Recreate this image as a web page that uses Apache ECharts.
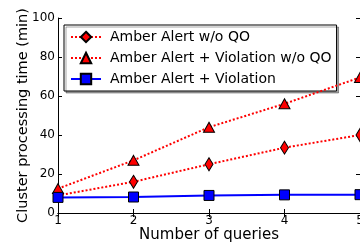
<!DOCTYPE html>
<html>
<head>
<meta charset="utf-8">
<script src="https://cdn.jsdelivr.net/npm/echarts@6/dist/echarts.min.js"></script>
<style>
html,body{margin:0;padding:0;background:#fff;}
#chart{width:360px;height:246px;}
</style>
</head>
<body>
<div id="chart"></div>
<script>
var queries = [1, 2, 3, 4, 5];
var alertNoQO = [9, 16, 25, 33.5, 40];
var alertViolNoQO = [12.5, 27, 44, 56, 69.5];
var alertViol = [8, 8.2, 9, 9.3, 9.4];
var yTicks = [0, 20, 40, 60, 80, 100];

function pairs(vals){
	var out = [];
	for(var i = 0; i < queries.length; i++){
		out.push([queries[i], vals[i]]);
	}
	return out;
}

var font = 'DejaVu Sans';
var chart = echarts.init(document.getElementById('chart'));
chart.setOption({
	animation : false,
	textStyle : { fontFamily : font },
	grid : {
		left : 58, top : 18, right : 0, bottom : 33,
		outerBoundsMode : 'none'
	},
	legend : {
		orient : 'vertical',
		left : 64, top : 25,
		padding : [5, 5, 5, 6],
		itemWidth : 30, itemHeight : 13, itemGap : 7,
		backgroundColor : '#fff',
		borderColor : '#000', borderWidth : 1,
		shadowColor : 'rgba(0,0,0,0.35)', shadowOffsetX : 2, shadowOffsetY : 2,
		textStyle : { fontFamily : font, fontSize : 14, color : '#000', padding : [0, 0, 0, 4] },
		data : ['Amber Alert w/o QO', 'Amber Alert + Violation w/o QO', 'Amber Alert + Violation']
	},
	xAxis : [
		{
			type : 'value',
			min : 1, max : 5, interval : 1,
			name : 'Number of queries',
			nameLocation : 'middle',
			nameGap : 15,
			nameMoveOverlap : false,
			nameTextStyle : { fontFamily : font, fontSize : 15, color : '#000', verticalAlign : 'top' },
			axisLine : { show : true, lineStyle : { color : '#000', width : 1 } },
			axisTick : { show : true, inside : true, length : 4, lineStyle : { color : '#000' } },
			axisLabel : { fontFamily : font, fontSize : 12, color : '#000', margin : 2 },
			splitLine : { show : false }
		},
		{
			type : 'value', position : 'top',
			min : 1, max : 5, interval : 1,
			axisLine : { show : true, lineStyle : { color : '#000', width : 1 } },
			axisTick : { show : true, inside : true, length : 4, lineStyle : { color : '#000' } },
			axisLabel : { show : false },
			splitLine : { show : false }
		}
	],
	yAxis : [
		{
			type : 'value',
			min : 0, max : 100, interval : 20,
			name : 'Cluster processing time (min)',
			nameLocation : 'middle',
			nameGap : 27,
			nameMoveOverlap : false,
			nameTextStyle : { fontFamily : font, fontSize : 14.5, color : '#000' },
			axisLine : { show : true, lineStyle : { color : '#000', width : 1 } },
			axisTick : { show : true, inside : true, length : 4, lineStyle : { color : '#000' } },
			axisLabel : { fontFamily : font, fontSize : 12, color : '#000', margin : 3,
				formatter : function(v){ return yTicks.indexOf(v) >= 0 ? String(v) : ''; } },
			splitLine : { show : false }
		},
		{
			type : 'value', position : 'right',
			min : 0, max : 100, interval : 20,
			axisLine : { show : false },
			axisTick : { show : true, inside : true, length : 4, lineStyle : { color : '#000' } },
			axisLabel : { show : false },
			splitLine : { show : false }
		}
	],
	series : [
		{
			name : 'Amber Alert w/o QO',
			type : 'line',
			data : pairs(alertNoQO),
			symbol : 'diamond', symbolSize : [8, 13],
			itemStyle : { color : '#ff0000', borderColor : '#000', borderWidth : 1 },
			lineStyle : { color : '#ff0000', width : 2, type : 'dotted' },
			z : 3
		},
		{
			name : 'Amber Alert + Violation w/o QO',
			type : 'line',
			data : pairs(alertViolNoQO),
			symbol : 'triangle', symbolSize : [11, 10],
			itemStyle : { color : '#ff0000', borderColor : '#000', borderWidth : 1 },
			lineStyle : { color : '#ff0000', width : 2, type : 'dotted' },
			z : 4
		},
		{
			name : 'Amber Alert + Violation',
			type : 'line',
			data : pairs(alertViol),
			symbol : 'rect', symbolSize : 10,
			itemStyle : { color : '#0000ff', borderColor : '#000', borderWidth : 1 },
			lineStyle : { color : '#0000ff', width : 2 },
			z : 5
		}
	]
});
</script>
</body>
</html>
